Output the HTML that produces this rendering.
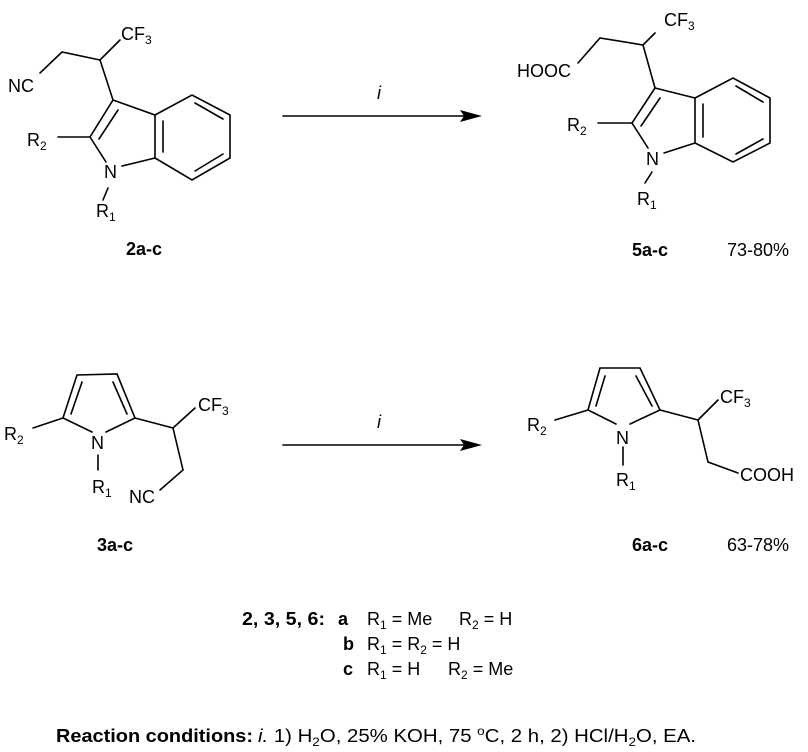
<!DOCTYPE html>
<html><head><style>
body{margin:0;background:#fff;}
svg{display:block;font-family:"Liberation Sans",Arial,sans-serif;}
</style></head><body>
<svg width="808" height="752" viewBox="0 0 808 752" xmlns="http://www.w3.org/2000/svg">
<g stroke="#000" stroke-width="1.6" fill="none" stroke-linecap="round">
<!-- compound 2 -->
<polyline points="40,73 62,52 100,60 120,40"/>
<line x1="100" y1="60" x2="113" y2="100"/>
<line x1="113" y1="100" x2="155" y2="115"/>
<line x1="113" y1="100" x2="90" y2="137"/>
<line x1="118" y1="110" x2="99" y2="139"/>
<line x1="90" y1="137" x2="58" y2="137"/>
<line x1="90" y1="137" x2="106" y2="162"/>
<line x1="122" y1="166" x2="155" y2="158"/>
<line x1="108" y1="188" x2="103" y2="200"/>
<polygon points="155,115 192,95 230,115 230,158 192,180 155,158"/>
<line x1="163" y1="121" x2="163" y2="152"/>
<line x1="195" y1="103" x2="223" y2="119"/>
<line x1="223" y1="154" x2="195" y2="171"/>
<!-- arrows -->
<line x1="283" y1="116" x2="465" y2="116"/>
<line x1="283" y1="445" x2="465" y2="445"/>
<!-- compound 5 -->
<polyline points="578,63 600,38 643,45 655,33"/>
<line x1="643" y1="45" x2="655" y2="88"/>
<line x1="655" y1="88" x2="695" y2="98"/>
<line x1="655" y1="88" x2="632" y2="123"/>
<line x1="660" y1="98" x2="641" y2="126"/>
<line x1="598" y1="123" x2="632" y2="123"/>
<line x1="632" y1="123" x2="648" y2="148"/>
<line x1="664" y1="153" x2="695" y2="143"/>
<line x1="652" y1="172" x2="645" y2="183"/>
<polygon points="695,98 733,78 770,98 770,143 733,162 695,143"/>
<line x1="703" y1="104" x2="703" y2="137"/>
<line x1="736" y1="86" x2="763" y2="102"/>
<line x1="763" y1="139" x2="736" y2="154"/>
<!-- compound 3 -->
<polyline points="92,432 63,418 77,375 117,374 135,418 106,432"/>
<line x1="71" y1="414" x2="82" y2="382"/>
<line x1="127" y1="414" x2="113" y2="382"/>
<line x1="63" y1="418" x2="33" y2="428"/>
<line x1="135" y1="418" x2="173" y2="428"/>
<line x1="173" y1="428" x2="195" y2="408"/>
<polyline points="173,428 183,470 160,490"/>
<line x1="98" y1="455" x2="98" y2="470"/>
<!-- compound 6 -->
<polyline points="616,424 588,410 600,368 640,368 660,410 630,424"/>
<line x1="596" y1="406" x2="605" y2="376"/>
<line x1="652" y1="406" x2="636" y2="376"/>
<line x1="588" y1="410" x2="555" y2="420"/>
<line x1="660" y1="410" x2="698" y2="420"/>
<line x1="698" y1="420" x2="718" y2="400"/>
<polyline points="698,420 708,462 738,473"/>
<line x1="623" y1="447" x2="623" y2="465"/>
</g>
<polygon points="482,116 460,110 464,116 460,122" fill="#000"/>
<polygon points="482,445 460,439 464,445 460,451" fill="#000"/>
<g font-size="18" fill="#000">
<text x="121" y="40">CF<tspan font-size="12" dy="4">3</tspan></text>
<text x="8" y="92">NC</text>
<text x="27" y="146">R<tspan font-size="12" dy="4">2</tspan></text>
<text x="104" y="178">N</text>
<text x="96" y="217">R<tspan font-size="12" dy="4">1</tspan></text>
<text x="144" y="255" font-weight="bold" text-anchor="middle">2a-c</text>
<text x="377" y="99" font-style="italic">i</text>
<text x="377" y="428" font-style="italic">i</text>
<text x="664" y="26">CF<tspan font-size="12" dy="4">3</tspan></text>
<text x="517" y="77">HOOC</text>
<text x="567" y="131">R<tspan font-size="12" dy="4">2</tspan></text>
<text x="646" y="165">N</text>
<text x="637" y="205">R<tspan font-size="12" dy="4">1</tspan></text>
<text x="650" y="256" font-weight="bold" text-anchor="middle">5a-c</text>
<text x="727" y="256">73-80%</text>
<text x="198" y="411">CF<tspan font-size="12" dy="4">3</tspan></text>
<text x="4" y="440">R<tspan font-size="12" dy="4">2</tspan></text>
<text x="91" y="449">N</text>
<text x="92" y="493">R<tspan font-size="12" dy="4">1</tspan></text>
<text x="129" y="503">NC</text>
<text x="115" y="551" font-weight="bold" text-anchor="middle">3a-c</text>
<text x="720" y="403">CF<tspan font-size="12" dy="4">3</tspan></text>
<text x="527" y="431">R<tspan font-size="12" dy="4">2</tspan></text>
<text x="616" y="444">N</text>
<text x="616" y="486">R<tspan font-size="12" dy="4">1</tspan></text>
<text x="740" y="481">COOH</text>
<text x="650" y="551" font-weight="bold" text-anchor="middle">6a-c</text>
<text x="727" y="551">63-78%</text>

<text x="242" y="625" font-weight="bold" textLength="83" lengthAdjust="spacingAndGlyphs">2, 3, 5, 6:</text>
<text x="338" y="625" font-weight="bold">a</text>
<text x="367" y="625">R<tspan font-size="12" dy="4">1</tspan><tspan dy="-4"> = Me</tspan></text>
<text x="459" y="625">R<tspan font-size="12" dy="4">2</tspan><tspan dy="-4"> = H</tspan></text>
<text x="343" y="650" font-weight="bold">b</text>
<text x="367" y="650">R<tspan font-size="12" dy="4">1</tspan><tspan dy="-4"> = R</tspan><tspan font-size="12" dy="4">2</tspan><tspan dy="-4"> = H</tspan></text>
<text x="343" y="675" font-weight="bold">c</text>
<text x="367" y="675">R<tspan font-size="12" dy="4">1</tspan><tspan dy="-4"> = H</tspan></text>
<text x="448" y="675">R<tspan font-size="12" dy="4">2</tspan><tspan dy="-4"> = Me</tspan></text>

<text x="56" y="742" font-weight="bold" textLength="197" lengthAdjust="spacingAndGlyphs">Reaction conditions:</text>
<text x="258" y="742" textLength="438" lengthAdjust="spacingAndGlyphs"><tspan font-style="italic">i.</tspan> 1) H<tspan font-size="12" dy="4">2</tspan><tspan dy="-4">O, 25% KOH, 75 </tspan><tspan font-size="12" dy="-7">o</tspan><tspan dy="7">C, 2 h, 2) HCl/H</tspan><tspan font-size="12" dy="4">2</tspan><tspan dy="-4">O, EA.</tspan></text>
</g>
</svg>
</body></html>
